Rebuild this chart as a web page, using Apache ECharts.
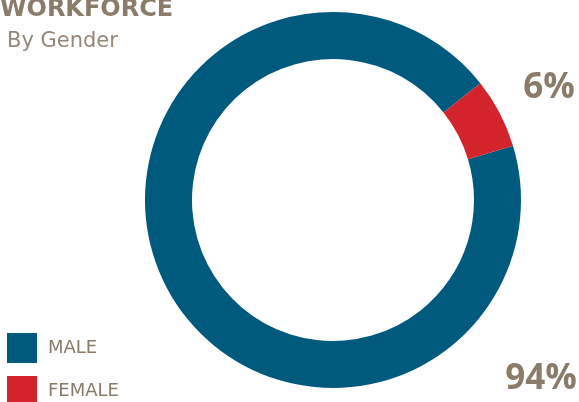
<!DOCTYPE html>
<html>
<head>
<meta charset="utf-8">
<script src="https://cdn.jsdelivr.net/npm/echarts@6/dist/echarts.min.js"></script>
<style>
  html, body { margin: 0; padding: 0; background: #fff; }
  #chart { width: 579px; height: 402px; }
</style>
</head>
<body>
<div id="chart"></div>
<script>
// Workforce split by gender (percent)
const categories = ['MALE', 'FEMALE'];
const values = [94, 6];
const colors = ['#005a7e', '#d4242b'];
const textColor = '#8b7b69';

const chart = echarts.init(document.getElementById('chart'));

// where the big percentage labels sit
const labelSpots = [[541, 379], [549, 88]];

// one legend block per item so the second one can hang off the bottom edge
const legendTops = [328, 371];

const option = {
  backgroundColor: '#fff',
  title: [{
    text: 'WORKFORCE',
    left: 0,
    top: -7,
    padding: [5, 0],
    textStyle: { color: textColor, fontSize: 24, fontWeight: 'bold', fontFamily: 'DejaVu Sans' }
  }, {
    text: 'By Gender',
    left: 2,
    top: 26,
    textStyle: { color: '#958775', fontSize: 21, fontWeight: 'normal', fontFamily: 'DejaVu Sans' }
  }],
  legend: categories.map((c, i) => ({
    orient: 'vertical',
    left: 2,
    top: legendTops[i],
    icon: 'rect',
    itemWidth: 30,
    itemHeight: 30,
    data: [c],
    textStyle: { color: textColor, fontSize: 18, fontFamily: 'DejaVu Sans', padding: [0, 0, 0, 6] }
  })),
  series: [{
    type: 'pie',
    center: [333, 200],
    radius: [141, 188],
    startAngle: 16.8,
    clockwise: true,
    silent: true,
    label: {
      show: true,
      position: 'inside',
      formatter: p => p.value + '%',
      color: textColor,
      fontSize: 35,
      fontWeight: 'bold',
      fontFamily: 'Open Sans'
    },
    labelLine: { show: false },
    labelLayout: function (p) {
      const s = labelSpots[p.dataIndex];
      return { x: s[0], y: s[1], align: 'center', verticalAlign: 'middle' };
    },
    data: categories.map((c, i) => ({
      name: c,
      value: values[i],
      itemStyle: { color: colors[i] }
    }))
  }]
};

chart.setOption(option);
</script>
</body>
</html>
